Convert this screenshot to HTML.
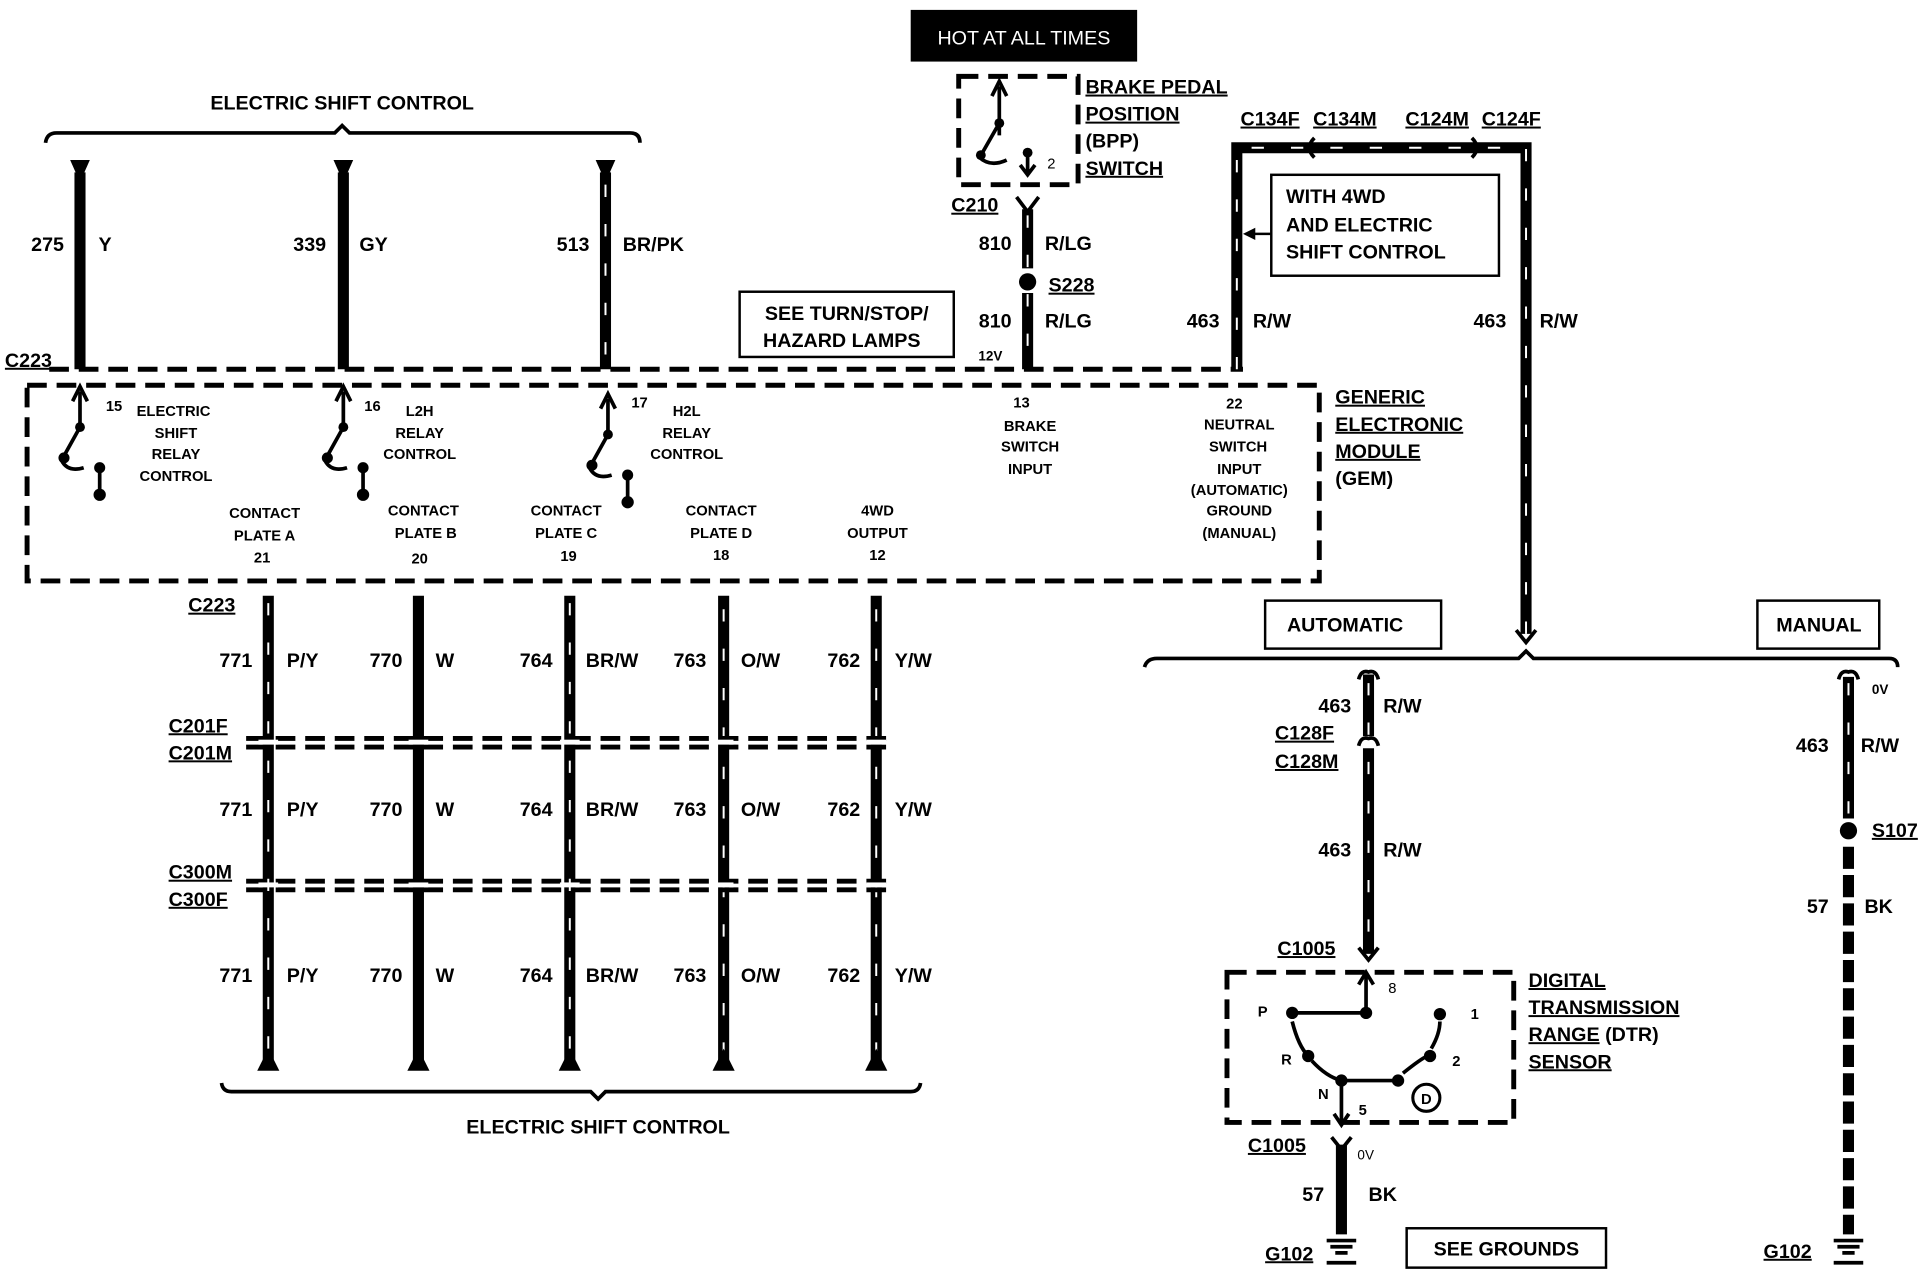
<!DOCTYPE html>
<html><head><meta charset="utf-8"><style>
html,body{margin:0;padding:0;background:#fff}
svg{display:block}
text{font-family:"Liberation Sans",sans-serif;font-weight:bold;fill:#000}
.b{font-size:16px}
.s{font-size:12px;font-weight:normal}
.u{text-decoration:underline}
.w{stroke:#000;stroke-width:9;fill:none}
.st{stroke:#fff;stroke-width:1.6;stroke-dasharray:10 22;fill:none}
.d{stroke:#000;stroke-width:4;stroke-dasharray:16 8;fill:none}
.t{stroke:#000;stroke-width:3;fill:none}
</style></head><body>
<svg width="1926" height="1280" viewBox="0 0 1565 1040" xmlns="http://www.w3.org/2000/svg">
<rect x="740" y="8" width="184" height="42" fill="#000"/>
<text x="832" y="36" text-anchor="middle" style="fill:#fff;font-weight:normal;font-size:16px">HOT AT ALL TIMES</text>

<text x="278" y="89" text-anchor="middle" class="b">ELECTRIC SHIFT CONTROL</text>
<path d="M37 116 Q38 108 46 108 L272 108 L278 102 L284 108 L512 108 Q520 108 520 116" class="t" stroke-width="4"/>

<g>
<path d="M57 130 L73 130 L65 148Z"/><path d="M271 130 L287 130 L279 148Z"/><path d="M484 130 L500 130 L492 148Z"/>
<line x1="65" y1="140" x2="65" y2="300" class="w"/>
<line x1="279" y1="140" x2="279" y2="300" class="w"/>
<line x1="492" y1="140" x2="492" y2="300" class="w"/>
<line x1="492" y1="150" x2="492" y2="300" class="st"/>
</g>
<text x="52" y="204" text-anchor="end" class="b">275</text><text x="80" y="204" class="b">Y</text>
<text x="265" y="204" text-anchor="end" class="b">339</text><text x="292" y="204" class="b">GY</text>
<text x="479" y="204" text-anchor="end" class="b">513</text><text x="506" y="204" class="b">BR/PK</text>
<text x="4" y="298" class="b u">C223</text>
<line x1="40" y1="300" x2="1010" y2="300" class="d" stroke-width="3"/>

<rect x="779" y="62" width="97" height="88" fill="#f3f3f3" class="d"/>
<line x1="812" y1="110" x2="812" y2="70" class="t"/><path d="M806 78 L812 66 L818 78" class="t"/>
<path d="M812 100 L796 128 Q805 136 818 130" class="t"/><circle cx="812" cy="100" r="4"/><circle cx="797" cy="126" r="4"/>
<circle cx="835" cy="124" r="4"/><path d="M835 124 L835 140 M829 134 L835 142 L841 134" class="t"/>
<text x="851" y="137" class="s">2</text>
<text x="882" y="76" class="b u">BRAKE PEDAL</text>
<text x="882" y="98" class="b u">POSITION</text>
<text x="882" y="120" class="b">(BPP)</text>
<text x="882" y="142" class="b u">SWITCH</text>
<text x="773" y="172" class="b u">C210</text>
<path d="M826 160 L835 172 L844 160" class="t" stroke-width="4"/>
<line x1="835" y1="170" x2="835" y2="218" class="w"/>
<line x1="835" y1="238" x2="835" y2="300" class="w"/>
<line x1="835" y1="175" x2="835" y2="300" class="st"/>
<circle cx="835" cy="229" r="7"/>
<text x="822" y="203" text-anchor="end" class="b">810</text><text x="849" y="203" class="b">R/LG</text>
<text x="852" y="237" class="b u">S228</text>
<text x="822" y="266" text-anchor="end" class="b">810</text><text x="849" y="266" class="b">R/LG</text>
<text x="795" y="293" style="font-size:11px">12V</text>

<rect x="601" y="237" width="174" height="53" fill="#fff" stroke="#000" stroke-width="2"/>
<text x="688" y="260" text-anchor="middle" class="b">SEE TURN/STOP/</text>
<text x="684" y="282" text-anchor="middle" class="b">HAZARD LAMPS</text>

<path d="M1005 300 L1005 120 L1240 120 L1240 515" class="w"/>
<path d="M1005 300 L1005 120 L1240 120 L1240 515" class="st"/>
<path d="M1068 112 Q1060 120 1068 128 M1196 112 Q1204 120 1196 128" class="t"/>
<text x="1008" y="102" class="b u">C134F</text><text x="1067" y="102" class="b u">C134M</text>
<text x="1142" y="102" class="b u">C124M</text><text x="1204" y="102" class="b u">C124F</text>
<rect x="1033" y="142" width="185" height="82" fill="#fff" stroke="#000" stroke-width="2"/>
<text x="1045" y="165" class="b">WITH 4WD</text>
<text x="1045" y="188" class="b">AND ELECTRIC</text>
<text x="1045" y="210" class="b">SHIFT CONTROL</text>
<line x1="1033" y1="190" x2="1012" y2="190" stroke="#000" stroke-width="2"/><path d="M1010 190 L1020 185 L1020 195Z"/>
<text x="991" y="266" text-anchor="end" class="b">463</text><text x="1018" y="266" class="b">R/W</text>
<text x="1224" y="266" text-anchor="end" class="b">463</text><text x="1251" y="266" class="b">R/W</text>
<path d="M1232 512 L1240 522 L1248 512" class="t"/>

<rect x="22" y="313" width="1050" height="159" fill="#f5f5f5" class="d"/>
<text x="1085" y="328" class="b u">GENERIC</text>
<text x="1085" y="350" class="b u">ELECTRONIC</text>
<text x="1085" y="372" class="b u">MODULE</text>
<text x="1085" y="394" class="b">(GEM)</text>
<g id="sw">
<line x1="65" y1="350" x2="65" y2="318" class="t"/><path d="M59 326 L65 314 L71 326" class="t"/>
<circle cx="65" cy="347" r="4"/><path d="M65 347 L50 374 Q55 384 68 380" class="t" stroke-width="3.5"/><circle cx="52" cy="372" r="4.5"/>
<circle cx="81" cy="380" r="4.5"/><line x1="81" y1="380" x2="81" y2="404" class="t"/><circle cx="81" cy="402" r="5"/>
</g>
<use href="#sw" x="214" y="0"/>
<use href="#sw" x="429" y="6"/>
<g class="s" style="font-size:12px">
<text x="86" y="334">15</text><text x="111" y="338">ELECTRIC</text><text x="143" y="356" text-anchor="middle">SHIFT</text><text x="143" y="373" text-anchor="middle">RELAY</text><text x="143" y="391" text-anchor="middle">CONTROL</text>
<text x="296" y="334">16</text><text x="341" y="338" text-anchor="middle">L2H</text><text x="341" y="356" text-anchor="middle">RELAY</text><text x="341" y="373" text-anchor="middle">CONTROL</text>
<text x="513" y="331">17</text><text x="558" y="338" text-anchor="middle">H2L</text><text x="558" y="356" text-anchor="middle">RELAY</text><text x="558" y="373" text-anchor="middle">CONTROL</text>
<text x="215" y="421" text-anchor="middle">CONTACT</text><text x="215" y="439" text-anchor="middle">PLATE  A</text><text x="213" y="457" text-anchor="middle">21</text>
<text x="344" y="419" text-anchor="middle">CONTACT</text><text x="346" y="437" text-anchor="middle">PLATE  B</text><text x="341" y="458" text-anchor="middle">20</text>
<text x="460" y="419" text-anchor="middle">CONTACT</text><text x="460" y="437" text-anchor="middle">PLATE  C</text><text x="462" y="456" text-anchor="middle">19</text>
<text x="586" y="419" text-anchor="middle">CONTACT</text><text x="586" y="437" text-anchor="middle">PLATE  D</text><text x="586" y="455" text-anchor="middle">18</text>
<text x="713" y="419" text-anchor="middle">4WD</text><text x="713" y="437" text-anchor="middle">OUTPUT</text><text x="713" y="455" text-anchor="middle">12</text>
<text x="830" y="331" text-anchor="middle">13</text><text x="837" y="350" text-anchor="middle">BRAKE</text><text x="837" y="367" text-anchor="middle">SWITCH</text><text x="837" y="385" text-anchor="middle">INPUT</text>
<text x="1003" y="332" text-anchor="middle">22</text><text x="1007" y="349" text-anchor="middle">NEUTRAL</text><text x="1006" y="367" text-anchor="middle">SWITCH</text><text x="1007" y="385" text-anchor="middle">INPUT</text><text x="1007" y="402" text-anchor="middle">(AUTOMATIC)</text><text x="1007" y="419" text-anchor="middle">GROUND</text><text x="1007" y="437" text-anchor="middle">(MANUAL)</text>
</g>

<text x="153" y="497" class="b u">C223</text>
<g>
<line x1="218" y1="484" x2="218" y2="862" class="w"/><line x1="218" y1="490" x2="218" y2="860" class="st"/>
<line x1="340" y1="484" x2="340" y2="862" class="w"/>
<line x1="463" y1="484" x2="463" y2="862" class="w"/><line x1="463" y1="490" x2="463" y2="860" class="st"/>
<line x1="588" y1="484" x2="588" y2="862" class="w"/><line x1="588" y1="495" x2="588" y2="860" class="st"/>
<line x1="712" y1="484" x2="712" y2="862" class="w"/><line x1="712" y1="495" x2="712" y2="860" class="st"/>
<path d="M209 870 L227 870 L218 852Z"/><path d="M331 870 L349 870 L340 852Z"/><path d="M454 870 L472 870 L463 852Z"/><path d="M579 870 L597 870 L588 852Z"/><path d="M703 870 L721 870 L712 852Z"/>
</g>
<line x1="200" y1="600" x2="725" y2="600" class="d" stroke-width="2.5"/>
<line x1="200" y1="607" x2="725" y2="607" class="d" stroke-width="2.5"/>
<line x1="200" y1="716" x2="725" y2="716" class="d" stroke-width="2.5"/>
<line x1="200" y1="723" x2="725" y2="723" class="d" stroke-width="2.5"/>
<g fill="#fff">
<rect x="210" y="601" width="16" height="4"/><rect x="332" y="601" width="16" height="4"/><rect x="455" y="601" width="16" height="4"/><rect x="580" y="601" width="16" height="4"/><rect x="704" y="601" width="16" height="4"/>
<rect x="210" y="717" width="16" height="4"/><rect x="332" y="717" width="16" height="4"/><rect x="455" y="717" width="16" height="4"/><rect x="580" y="717" width="16" height="4"/><rect x="704" y="717" width="16" height="4"/>
</g>
<text x="137" y="595" class="b u">C201F</text><text x="137" y="617" class="b u">C201M</text>
<text x="137" y="714" class="b u">C300M</text><text x="137" y="736" class="b u">C300F</text>
<g class="b">
<text x="205" y="542" text-anchor="end">771</text><text x="233" y="542">P/Y</text>
<text x="327" y="542" text-anchor="end">770</text><text x="354" y="542">W</text>
<text x="449" y="542" text-anchor="end">764</text><text x="476" y="542">BR/W</text>
<text x="574" y="542" text-anchor="end">763</text><text x="602" y="542">O/W</text>
<text x="699" y="542" text-anchor="end">762</text><text x="727" y="542">Y/W</text>
<text x="205" y="663" text-anchor="end">771</text><text x="233" y="663">P/Y</text>
<text x="327" y="663" text-anchor="end">770</text><text x="354" y="663">W</text>
<text x="449" y="663" text-anchor="end">764</text><text x="476" y="663">BR/W</text>
<text x="574" y="663" text-anchor="end">763</text><text x="602" y="663">O/W</text>
<text x="699" y="663" text-anchor="end">762</text><text x="727" y="663">Y/W</text>
<text x="205" y="798" text-anchor="end">771</text><text x="233" y="798">P/Y</text>
<text x="327" y="798" text-anchor="end">770</text><text x="354" y="798">W</text>
<text x="449" y="798" text-anchor="end">764</text><text x="476" y="798">BR/W</text>
<text x="574" y="798" text-anchor="end">763</text><text x="602" y="798">O/W</text>
<text x="699" y="798" text-anchor="end">762</text><text x="727" y="798">Y/W</text>
</g>
<path d="M180 880 Q181 887 188 887 L480 887 L486 893 L492 887 L740 887 Q747 887 748 880" class="t" stroke-width="4"/>
<text x="486" y="921" text-anchor="middle" class="b">ELECTRIC SHIFT CONTROL</text>

<rect x="1028" y="488" width="143" height="39" fill="#fff" stroke="#000" stroke-width="2"/>
<text x="1093" y="513" text-anchor="middle" class="b">AUTOMATIC</text>
<rect x="1428" y="488" width="99" height="39" fill="#fff" stroke="#000" stroke-width="2"/>
<text x="1478" y="513" text-anchor="middle" class="b">MANUAL</text>
<path d="M930 542 Q932 535 940 535 L1234 535 L1240 529 L1246 535 L1535 535 Q1542 535 1542 542" class="t" stroke-width="4"/>

<line x1="1112" y1="548" x2="1112" y2="598" class="w"/>
<line x1="1112" y1="608" x2="1112" y2="775" class="w"/>
<line x1="1112" y1="555" x2="1112" y2="770" class="st"/>
<path d="M1104 552 Q1106 544 1112 546 Q1118 544 1120 552" class="t"/>
<path d="M1104 606 Q1106 598 1112 600 Q1118 598 1120 606" class="t" stroke="#000"/>
<text x="1098" y="579" text-anchor="end" class="b">463</text><text x="1124" y="579" class="b">R/W</text>
<text x="1036" y="601" class="b u">C128F</text><text x="1036" y="624" class="b u">C128M</text>
<text x="1098" y="696" text-anchor="end" class="b">463</text><text x="1124" y="696" class="b">R/W</text>
<text x="1038" y="776" class="b u">C1005</text>
<path d="M1104 770 L1112 780 L1120 770" class="t"/>

<rect x="997" y="790" width="233" height="122" fill="#fff" class="d"/>
<line x1="1110" y1="823" x2="1110" y2="792" class="t"/><path d="M1104 800 L1110 790 L1116 800" class="t"/>
<text x="1128" y="807" class="s">8</text>
<path d="M1050 823 L1110 823" class="t"/><circle cx="1050" cy="823" r="5"/><circle cx="1110" cy="823" r="5"/>
<path d="M1050 830 Q1055 850 1063 858 M1066 862 Q1078 875 1090 878 L1135 878 M1140 872 Q1155 860 1160 858 M1163 852 Q1170 840 1170 830" class="t"/>
<circle cx="1063" cy="858" r="5"/><circle cx="1090" cy="878" r="5"/><circle cx="1136" cy="878" r="5"/><circle cx="1162" cy="858" r="5"/><circle cx="1170" cy="824" r="5"/>
<line x1="1090" y1="878" x2="1090" y2="912" class="t"/><path d="M1084 905 L1090 914 L1096 905" class="t"/>
<circle cx="1159" cy="892" r="11" fill="none" stroke="#000" stroke-width="2.5"/>
<text x="1159" y="897" text-anchor="middle" style="font-size:12px">D</text>
<g class="s"><text x="1022" y="826">P</text><text x="1195" y="828">1</text><text x="1041" y="865">R</text><text x="1180" y="866">2</text><text x="1071" y="893">N</text><text x="1104" y="906">5</text></g>
<text x="1242" y="802" class="b u">DIGITAL</text>
<text x="1242" y="824" class="b u">TRANSMISSION</text>
<text x="1242" y="846" class="b"><tspan class="u">RANGE</tspan> (DTR)</text>
<text x="1242" y="868" class="b u">SENSOR</text>

<text x="1014" y="936" class="b u">C1005</text>
<path d="M1082 924 L1090 934 L1098 924" class="t" stroke-width="4"/>
<line x1="1090" y1="930" x2="1090" y2="1003" class="w"/>
<text x="1103" y="942" class="s" style="font-size:11px">0V</text>
<text x="1076" y="976" text-anchor="end" class="b">57</text><text x="1112" y="976" class="b">BK</text>
<text x="1028" y="1024" class="b u">G102</text>
<path d="M1078 1008 L1102 1008 M1081 1013 L1099 1013 M1085 1018 L1095 1018 M1078 1026 L1102 1026" class="t" stroke-width="2.5"/>
<rect x="1143" y="998" width="162" height="32" fill="#fff" stroke="#000" stroke-width="2"/>
<text x="1224" y="1020" text-anchor="middle" class="b">SEE  GROUNDS</text>

<path d="M1494 552 Q1496 544 1502 546 Q1508 544 1510 552" class="t"/>
<line x1="1502" y1="550" x2="1502" y2="665" class="w"/>
<line x1="1502" y1="555" x2="1502" y2="665" class="st"/>
<circle cx="1502" cy="675" r="7"/>
<line x1="1502" y1="688" x2="1502" y2="1003" stroke="#000" stroke-width="9" stroke-dasharray="18 5"/>
<text x="1521" y="564" style="font-size:11px">0V</text>
<text x="1486" y="611" text-anchor="end" class="b">463</text><text x="1512" y="611" class="b">R/W</text>
<text x="1521" y="680" class="b u">S107</text>
<text x="1486" y="742" text-anchor="end" class="b">57</text><text x="1515" y="742" class="b">BK</text>
<text x="1433" y="1022" class="b u">G102</text>
<path d="M1490 1008 L1514 1008 M1493 1013 L1511 1013 M1497 1018 L1507 1018 M1490 1026 L1514 1026" class="t" stroke-width="2.5"/>
</svg>
</body></html>
